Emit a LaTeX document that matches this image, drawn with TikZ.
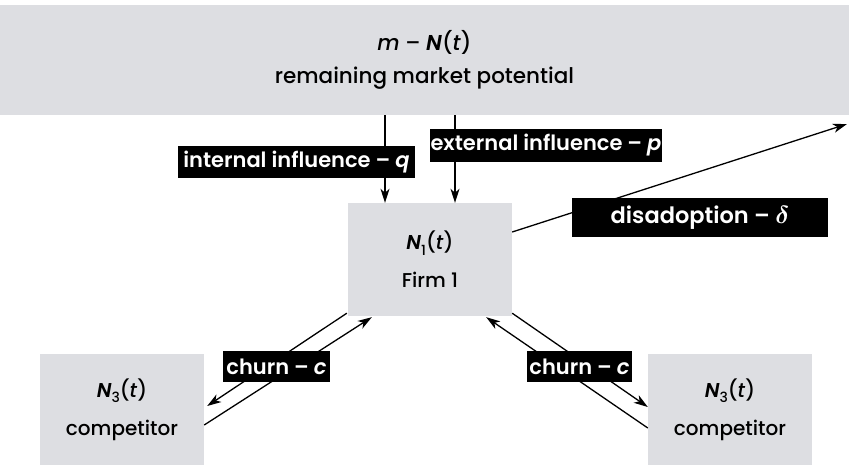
\documentclass[tikz,border=0pt]{standalone}
\usepackage{fontspec}
\setmainfont{Poppins}[UprightFont=* Medium, BoldFont=* SemiBold, ItalicFont=* Medium Italic, BoldItalicFont=* SemiBold Italic]
\usetikzlibrary{arrows.meta,calc}
\definecolor{boxgray}{RGB}{221,222,226}
\begin{document}
\begin{tikzpicture}[x=1pt,y=-1pt,
  box/.style={fill=boxgray, draw=none, inner sep=0pt, align=center},
  lab/.style={fill=black, text=white, inner sep=0pt, align=center, font=\fontsize{21}{24}\selectfont\bfseries},
  arr/.style={line width=1.3pt, -{Stealth[length=14pt,width=9pt,inset=4pt]}},
  ln/.style={line width=1.3pt}]
\useasboundingbox (0,0) rectangle (849,466);
\fill[white] (0,0) rectangle (849,466);
% boxes
\node[box, minimum width=849pt, minimum height=110pt, font=\fontsize{21.5}{33}\selectfont] (top) at (424.5,60)
  {\textit{m} – \textbf{\textit{N}}(\textit{t})\\remaining market potential};
\node[box, minimum width=164pt, minimum height=113pt, font=\fontsize{20}{38}\selectfont] (firm) at (430,259.5)
  {\textbf{\textit{N}}\raisebox{-0.5ex}{\fontsize{14}{14}\selectfont 1}(\textit{t})\\Firm 1};
\node[box, minimum width=164pt, minimum height=111pt, font=\fontsize{20}{38}\selectfont] (compL) at (122,409.5)
  {\textbf{\textit{N}}\raisebox{-0.5ex}{\fontsize{14}{14}\selectfont 3}(\textit{t})\\competitor};
\node[box, minimum width=164pt, minimum height=111pt, font=\fontsize{20}{38}\selectfont] (compR) at (730,409.5)
  {\textbf{\textit{N}}\raisebox{-0.5ex}{\fontsize{14}{14}\selectfont 3}(\textit{t})\\competitor};
\coordinate (out) at (847,124);
% connectors
\draw[arr] ([xshift=-45]firm.north |- top.south) -- ([xshift=-45]firm.north);
\draw[arr] ([xshift=25]firm.north |- top.south) -- ([xshift=25]firm.north);
\draw[arr] ([yshift=27.5]firm.east) -- (out);
\draw[arr] ($(firm.south west)+(-1,-3)$) -- ($(compL.east)+(3,-3.5)$);
\draw[arr] ($(compL.east)+(0,15.5)$) -- ($(firm.south west)+(24,1)$);
\draw[arr] ($(firm.south east)+(0,-3)$) -- ($(compR.west)+(0,-2.5)$);
\draw[arr] ($(compR.west)+(0,18.5)$) -- ($(firm.south east)+(-26,1)$);
% labels
\node[lab, minimum width=237pt, minimum height=32pt] (lint) at (296.5,162) {internal influence – \textit{q}};
\node[lab, minimum width=232pt, minimum height=33pt] (lext) at (546,145.5) {external influence – \textit{p}};
\node[lab, minimum width=256pt, minimum height=39pt, font=\fontsize{22.5}{24}\selectfont\bfseries] (ldis) at (700,217.5) {disadoption – {\fontsize{25}{25}\selectfont\boldmath$\delta$}};
\node[lab, minimum width=107pt, minimum height=31pt] (lchL) at (276.5,366.5) {churn – \textit{c}};
\node[lab, minimum width=105pt, minimum height=31pt] (lchR) at (579.5,366.5) {churn – \textit{c}};
\end{tikzpicture}
\end{document}
